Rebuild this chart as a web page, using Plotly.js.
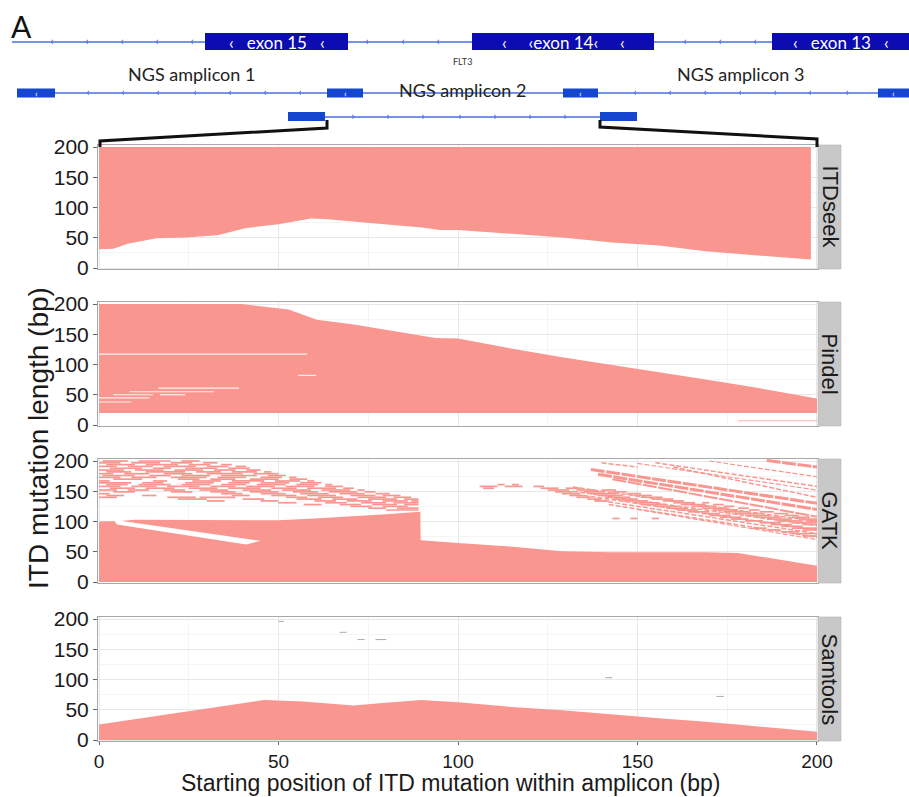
<!DOCTYPE html>
<html><head><meta charset="utf-8">
<script src="https://cdn.plot.ly/plotly-3.0.1.min.js"></script>
<style>html,body{margin:0;padding:0;background:#fff}#chart{width:909px;height:797px}</style>
</head><body><div id="chart"></div>
<script>
// ---------------- data ----------------
const methods = ['ITDseek', 'Pindel', 'GATK', 'Samtools'];
const xTicks = [0, 50, 100, 150, 200];
const yTicks = [0, 50, 100, 150, 200];

// ITDseek: detected from lower boundary up to 200 bp
const itdseekX   = [0, 4, 8, 16, 24, 33, 41, 50, 59, 63, 77, 90, 95, 100, 116, 129, 143, 156, 169, 182, 198.3];
const itdseekLow = [31, 32, 40, 49, 50.5, 54, 66, 72.5, 82, 81, 73.6, 67, 63, 63, 56, 50.5, 42, 37, 27.5, 21, 14];
const itdseekTop = 200;

// Pindel: detected from 20 bp up to upper boundary
const pindelX    = [0, 39.6, 52.8, 60.7, 71, 81.8, 93.7, 100, 116, 129, 142.6, 156, 169, 182, 200];
const pindelHigh = [200, 200, 191, 174, 166, 155, 144, 143, 125, 112, 100, 87, 75, 63, 43.6];
const pindelLow  = 20;
// undetected gaps inside Pindel region: [y, x0, x1]
const pindelGapY  = [117, 82, 61, 55, 50, 50, 45, 38];
const pindelGapX0 = [0, 55.5, 16.5, 8.5, 4, 17, 0, 0];
const pindelGapX1 = [58, 60.5, 39, 32, 15, 24, 14, 9];
const pindelFaintY = [7], pindelFaintX0 = [178], pindelFaintX1 = [200];

// GATK: contiguous region from 0 up to boundary
const gatkX    = [0, 6, 10, 20, 30, 40, 50, 60, 70, 80, 89.5, 89.6, 100, 116, 129, 142.6, 169, 178, 200];
const gatkHigh = [100, 101, 103, 103, 102.5, 103, 102, 105, 108, 112, 116, 69, 64.5, 58, 51, 49, 49, 48, 27];
// undetected diagonal stripe inside the GATK region
const gatkStripeX = [4, 45, 41, 5];
const gatkStripeY = [103, 68, 62, 95];
// scattered detections (rows of short segments)
const gatkRowY = [200,197,194,191,188,185,182,179,176,173,170,167,164,161,158,155,152,149,146,143,140,137,134,131,128,125,122,119,
                  161,158,155,152,149,146,143,140,137,134,131,128,125,122,119,116,113,110,107,105,104,101,98,95,92,89,86,83,80,76];
const gatkRowSegs = [
 [[1,8],[11,20],[23,28]],
 [[0,6],[9,17],[20,26],[29,33]],
 [[2,10],[13,22],[25,31],[34,37]],
 [[0,5],[8,15],[18,27],[30,36],[38,41]],
 [[3,12],[15,20],[24,33],[36,42]],
 [[0,7],[10,18],[21,29],[32,38],[41,45]],
 [[2,9],[13,24],[27,34],[37,44],[46,48]],
 [[0,4],[7,14],[18,26],[30,40],[43,50]],
 [[1,10],[14,20],[23,31],[34,44],[47,52]],
 [[0,6],[9,16],[20,30],[33,41],[45,51],[53,55]],
 [[4,12],[22,28],[31,38],[42,50],[53,58]],
 [[0,3],[15,19],[26,34],[37,46],[49,56],[58,60]],
 [[0,9],[12,18],[24,32],[36,42],[45,53],[56,62]],
 [[2,8],[11,20],[23,31],[34,41],[44,52],[55,61],[63,65]],
 [[0,6],[9,16],[19,28],[31,38],[41,49],[52,60],[63,68]],
 [[3,10],[13,21],[25,33],[36,45],[48,55],[58,66],[68,71]],
 [[0,5],[8,14],[18,24],[28,36],[40,48],[51,59],[62,70],[72,74]],
 [[4,10],[20,26],[31,38],[42,50],[54,61],[64,72],[74,77]],
 [[0,3],[34,40],[45,52],[56,64],[67,74],[77,81]],
 [[2,7],[12,16],[37,42],[48,55],[58,66],[70,77],[79,84]],
 [[0,5],[19,27],[28,38],[52,58],[61,68],[72,80],[82,87]],
 [[22,30],[40,46],[55,62],[65,72],[75,83],[85,89]],
 [[30,35],[45,50],[60,66],[69,76],[79,86],[87,89]],
 [[50,55],[63,69],[73,80],[82,89]],
 [[57,62],[67,73],[76,83],[85,89]],
 [[70,76],[79,86]],
 [[75,80],[83,89]],
 [[80,89]],
 [[111,113],[115,117]],
 [[106,111],[113,118],[121,124]],
 [[107,110],[123,128],[130,134]],
 [[125,131],[133,138],[140,144]],
 [[127,132],[135,141],[143,147]],
 [[129,134],[137,144],[147,151]],
 [[131,135],[139,146],[149,154]],
 [[133,137],[141,148],[151,157]],
 [[136,140],[143,150],[154,160]],
 [[138,142],[146,153],[157,163]],
 [[149,156],[160,166],[168,170]],
 [[151,158],[162,169],[171,174]],
 [[155,161],[165,172],[174,177]],
 [[158,164],[168,175],[178,181]],
 [[161,167],[171,178],[181,184]],
 [[164,170],[174,181],[184,188]],
 [[168,173],[177,184],[188,192]],
 [[170,176],[180,187],[191,195]],
 [[173,179],[183,190],[193,198]],
 [[143,145],[148,150],[154,156]],
 [[176,181],[186,193],[195,200]],
 [[180,185],[189,196],[197,200]],
 [[184,190],[193,200]],
 [[187,193],[196,200]],
 [[190,196]],
 [[182,186],[193,200]],
 [[186,190],[196,200]],
 [[190,195]],
 [[193,200]],
 [[196,200]]
];
// long diagonal streaks of detections (start/end)
const gatkStreakX0 = [186, 155, 160, 137, 139, 143, 140, 170, 150, 132, 132, 135, 138, 142, 150];
const gatkStreakY0 = [201, 197, 190, 186, 178, 170, 197, 200, 196, 157, 150, 143, 136, 128, 120];
const gatkStreakX1 = [200, 200, 200, 200, 200, 200, 150, 200, 200, 200, 200, 200, 200, 200, 200];
const gatkStreakY1 = [190, 158, 140, 130, 120, 108, 190, 174, 152, 100, 93, 86, 80, 74, 70];
const gatkStreakW  = [3, 1.5, 1.5, 3, 3, 2, 1.5, 1.2, 1.2, 1.5, 1.5, 1.5, 1.5, 1.5, 1.2];

// Samtools: contiguous region from 0 up to boundary
const samX    = [0, 23.8, 46, 56.8, 71, 79, 89.8, 100, 116, 129, 142.6, 156, 169, 182, 200];
const samHigh = [25.5, 46, 66, 63.6, 57, 61, 66, 62.5, 54, 49, 42, 36, 30, 23, 13.6];
const samDotY  = [196, 178, 166, 166, 103, 72];
const samDotX0 = [50, 67, 72, 77, 141, 172];
const samDotX1 = [51.5, 69, 74, 80, 143, 174];

// gene / amplicon track (schematic track units)
const exonNames = ['exon 15', 'exon 14', 'exon 13'];
const exonStart = [205, 472, 772];
const exonEnd   = [348, 654, 909];
const exonLabel = ['‹   exon 15   ‹', '‹     ‹exon 14‹     ‹', '‹   exon 13   ‹'];
const amp1Start = [17, 327, 563, 878];
const amp1End   = [55, 363, 598, 909];
const amp2Start = [288, 600];
const amp2End   = [325, 637];
const ampNames  = ['NGS amplicon 1', 'NGS amplicon 2', 'NGS amplicon 3'];
const geneTicks = [52, 87, 122, 157, 192, 367, 403, 438, 685, 720, 755];
const amp1Ticks = [88, 123, 158, 195, 230, 265, 300, 635, 670, 705, 740, 775, 810, 847];
const amp2Ticks = [353, 388, 423, 460, 495, 530, 565];

// ---------------- layout helpers ----------------
const W = 909, H = 797;
const FILL = '#F9968F';
const px = v => v / W, py = v => 1 - v / H;
const panelTop = [145, 302, 459, 617], panelH = 124;
const xDom = [px(98), px(818)];
const xRange = [-0.28, 200.28];
const yRange = [-1.65, 203.3];

const traces = [];
const segTrace = (ys, x0s, x1s, ax, color, width) => {
  const X = [], Y = [];
  ys.forEach((y, i) => { X.push(x0s[i], x1s[i], null); Y.push(y, y, null); });
  return {x: X, y: Y, xaxis: 'x' + ax, yaxis: 'y' + ax, mode: 'lines', line: {color, width}, hoverinfo: 'skip', showlegend: false};
};
const poly = (X, Y, ax, color) => ({x: X, y: Y, xaxis: 'x' + ax, yaxis: 'y' + ax, mode: 'lines', fill: 'toself',
  fillcolor: color, line: {width: 0, color: color}, hoverinfo: 'skip', showlegend: false});

// ITDseek
traces.push(poly(itdseekX.concat([itdseekX[itdseekX.length-1], 0]),
                 itdseekLow.concat([itdseekTop, itdseekTop]), '', FILL));
// Pindel
traces.push(poly(pindelX.concat([200, 0]), pindelHigh.concat([pindelLow, pindelLow]), '2', FILL));
traces.push(segTrace(pindelGapY, pindelGapX0, pindelGapX1, '2', 'rgba(255,255,255,0.85)', 1.2));
traces.push(segTrace(pindelFaintY, pindelFaintX0, pindelFaintX1, '2', 'rgba(249,150,143,0.7)', 1));
// GATK
traces.push(poly(gatkX.concat([200, 0]), gatkHigh.concat([0, 0]), '3', FILL));
traces.push(poly(gatkStripeX, gatkStripeY, '3', '#ffffff'));
{
  const X = [], Y = [];
  gatkRowY.forEach((y, i) => gatkRowSegs[i].forEach(s => { X.push(s[0], s[1], null); Y.push(y, y, null); }));
  traces.push({x: X, y: Y, xaxis: 'x3', yaxis: 'y3', mode: 'lines', line: {color: FILL, width: 1.7}, hoverinfo: 'skip', showlegend: false});
  gatkStreakX0.forEach((x0, i) => traces.push({x: [x0, gatkStreakX1[i]], y: [gatkStreakY0[i], gatkStreakY1[i]],
    xaxis: 'x3', yaxis: 'y3', mode: 'lines', line: {color: FILL, width: gatkStreakW[i], dash: gatkStreakW[i] >= 2 ? '14px,1.5px' : '5px,2px'},
    hoverinfo: 'skip', showlegend: false}));
}
// Samtools
traces.push(poly(samX.concat([200, 0]), samHigh.concat([0, 0]), '4', FILL));
traces.push(segTrace(samDotY, samDotX0, samDotX1, '4', '#aaaaaa', 1));

// track overlay traces (tick marks along lines)
traces.push({x: geneTicks, y: geneTicks.map(() => 42), xaxis: 'x5', yaxis: 'y5', mode: 'text', text: geneTicks.map(() => '‹'),
  textfont: {family: 'Lato', size: 11, color: '#3050d0'}, hoverinfo: 'skip', showlegend: false});
traces.push({x: amp1Ticks, y: amp1Ticks.map(() => 93), xaxis: 'x5', yaxis: 'y5', mode: 'text', text: amp1Ticks.map(() => '‹'),
  textfont: {family: 'Lato', size: 11, color: '#3050d0'}, hoverinfo: 'skip', showlegend: false});
traces.push({x: amp2Ticks, y: amp2Ticks.map(() => 117), xaxis: 'x5', yaxis: 'y5', mode: 'text', text: amp2Ticks.map(() => '›'),
  textfont: {family: 'Lato', size: 11, color: '#3050d0'}, hoverinfo: 'skip', showlegend: false});

const layout = {
  width: W, height: H,
  margin: {l: 0, r: 0, t: 0, b: 0, autoexpand: false},
  paper_bgcolor: '#ffffff', plot_bgcolor: 'rgba(0,0,0,0)',
  showlegend: false,
  font: {family: 'Liberation Sans, Arial, sans-serif', color: '#1a1a1a'},
  shapes: [], annotations: []
};
const suffix = ['', '2', '3', '4'];
methods.forEach((m, i) => {
  const s = suffix[i];
  const top = panelTop[i], bot = top + panelH;
  layout['xaxis' + s] = {
    domain: xDom, range: xRange, anchor: 'y' + s, tickvals: xTicks,
    showticklabels: i === 3, ticks: i === 3 ? 'outside' : '', ticklen: 3, tickcolor: '#666',
    tickfont: {size: 19, color: '#1a1a1a'},
    showgrid: true, gridcolor: '#e8e8e8', gridwidth: 1,
    minor: {dtick: 25, tick0: 0, showgrid: true, gridcolor: '#f3f3f3', gridwidth: 0.8},
    zeroline: false, showline: true, mirror: true, linecolor: '#a8a8a8', linewidth: 1, fixedrange: true
  };
  layout['yaxis' + s] = {
    domain: [py(bot), py(top)], range: yRange, anchor: 'x' + s, tickvals: yTicks,
    ticks: 'outside', ticklen: 4, tickcolor: '#666', tickfont: {size: 21, color: '#1a1a1a'},
    showgrid: true, gridcolor: '#e8e8e8', gridwidth: 1,
    minor: {dtick: 25, tick0: 0, showgrid: true, gridcolor: '#f3f3f3', gridwidth: 0.8},
    zeroline: false, showline: true, mirror: true, linecolor: '#a8a8a8', linewidth: 1, fixedrange: true
  };
  layout.shapes.push({type: 'rect', xref: 'paper', yref: 'paper', x0: px(818), x1: px(841), y0: py(bot), y1: py(top),
    fillcolor: '#c8c8c8', line: {color: '#b5b5b5', width: 0.6}});
  layout.annotations.push({xref: 'paper', yref: 'paper', x: px(829.5), y: py((top + bot) / 2), text: m, showarrow: false,
    textangle: 90, font: {size: 22, color: '#1a1a1a'}, xanchor: 'center', yanchor: 'middle'});
});
// overlay axis for the gene track
layout.xaxis5 = {domain: [0, 1], range: [0, W], visible: false, fixedrange: true, anchor: 'y5'};
layout.yaxis5 = {domain: [0, 1], range: [H, 0], visible: false, fixedrange: true, anchor: 'x5'};

const T = (o) => Object.assign({xref: 'x5', yref: 'y5'}, o);
// track lines
layout.shapes.push(T({type: 'line', x0: 12, x1: 909, y0: 42, y1: 42, line: {color: '#4a6ee0', width: 1.5}}));
layout.shapes.push(T({type: 'line', x0: 18, x1: 909, y0: 93, y1: 93, line: {color: '#4a6ee0', width: 1.5}}));
layout.shapes.push(T({type: 'line', x0: 325, x1: 600, y0: 117, y1: 117, line: {color: '#4a6ee0', width: 1.5}}));
exonStart.forEach((x0, i) => {
  layout.shapes.push(T({type: 'rect', x0, x1: exonEnd[i], y0: 33, y1: 50, fillcolor: '#0c0cb0', line: {width: 0}}));
  layout.annotations.push(T({x: (x0 + exonEnd[i]) / 2, y: 42, text: exonLabel[i], showarrow: false,
    font: {family: 'Lato', size: 17, color: '#ffffff'}}));
});
amp1Start.forEach((x0, i) => {
  layout.shapes.push(T({type: 'rect', x0, x1: amp1End[i], y0: 88.5, y1: 97.5, fillcolor: '#1446d0', line: {width: 0}}));
  layout.annotations.push(T({x: (x0 + amp1End[i]) / 2, y: 93, text: '‹', showarrow: false,
    font: {family: 'Lato', size: 10, color: '#ffffff'}}));
});
amp2Start.forEach((x0, i) => {
  layout.shapes.push(T({type: 'rect', x0, x1: amp2End[i], y0: 112, y1: 121, fillcolor: '#1446d0', line: {width: 0}}));
});
// connectors to the zoomed panel
layout.shapes.push(T({type: 'path', path: 'M327,120 L327,128 L100,141 L100,147', line: {color: '#111', width: 3}}));
layout.shapes.push(T({type: 'path', path: 'M600,120 L600,127 L817,139 L817,147', line: {color: '#111', width: 3}}));
// track labels
layout.annotations.push(T({x: 191, y: 74, text: ampNames[0], showarrow: false, font: {family: 'Lato', size: 18, color: '#222'}}));
layout.annotations.push(T({x: 462, y: 90, text: ampNames[1], showarrow: false, font: {family: 'Lato', size: 18, color: '#222'}}));
layout.annotations.push(T({x: 740, y: 74, text: ampNames[2], showarrow: false, font: {family: 'Lato', size: 18, color: '#222'}}));
layout.annotations.push(T({x: 462, y: 61, text: 'FLT3', showarrow: false, font: {family: 'Lato', size: 9, color: '#333'}}));
layout.annotations.push(T({x: 21, y: 26, text: 'A', showarrow: false, font: {family: 'Lato', size: 30, color: '#111'}}));
// axis titles
layout.annotations.push({xref: 'paper', yref: 'paper', x: px(450), y: 0, text: 'Starting position of ITD mutation within amplicon (bp)',
  showarrow: false, font: {size: 23, color: '#1a1a1a'}, xanchor: 'center', yanchor: 'bottom', borderpad: 0});
layout.annotations.push({xref: 'paper', yref: 'paper', x: px(38), y: py(438), text: 'ITD mutation length (bp)',
  showarrow: false, textangle: -90, font: {size: 28, color: '#1a1a1a'}, xanchor: 'center', yanchor: 'middle'});

Plotly.newPlot('chart', traces, layout, {staticPlot: true});
</script></body></html>
